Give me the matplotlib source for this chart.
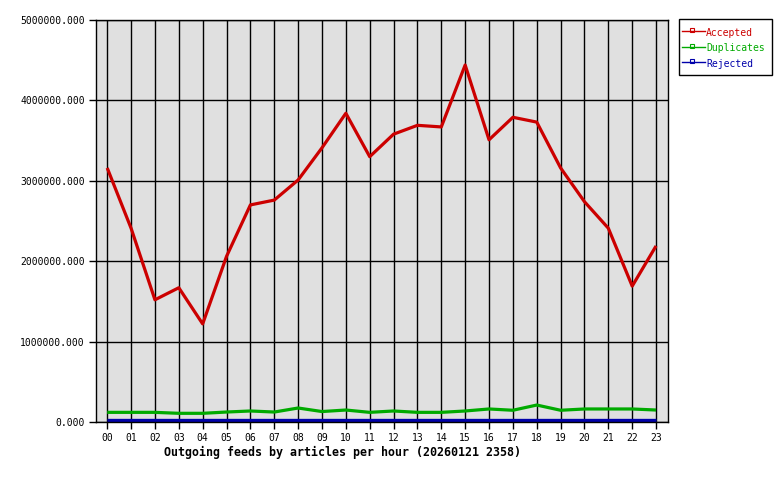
import matplotlib
matplotlib.use("Agg")
import matplotlib.pyplot as plt
from matplotlib.lines import Line2D
from matplotlib.patches import Rectangle

hours = ["00","01","02","03","04","05","06","07","08","09","10","11",
         "12","13","14","15","16","17","18","19","20","21","22","23"]
accepted = [3160000, 2410000, 1520000, 1670000, 1220000, 2060000, 2700000, 2760000,
            3010000, 3410000, 3840000, 3300000, 3580000, 3690000, 3670000, 4440000,
            3510000, 3790000, 3730000, 3160000, 2740000, 2410000, 1690000, 2190000]
duplicates = [120000, 120000, 120000, 108000, 108000, 124000, 137000, 124000,
              174000, 130000, 149000, 120000, 137000, 120000, 120000, 137000,
              162000, 146000, 211000, 146000, 162000, 162000, 162000, 149000]
rejected = [20000] * 24
series_names = ["Accepted", "Duplicates", "Rejected"]
yticks = [0, 1000000, 2000000, 3000000, 4000000, 5000000]

red = "#cc0000"
green = "#00aa00"
blue = "#0000aa"
colors = [red, green, blue]
mono = "DejaVu Sans Mono"

W, H = 780, 480
fig = plt.figure(figsize=(7.8, 4.8), dpi=100)
ax = fig.add_axes([96/W, 58/H, 572/W, 402/H])
ax.set_facecolor("#e0e0e0")
x = list(range(len(hours)))

ax.plot(x, rejected, color=blue, lw=2.4, solid_capstyle="butt", zorder=3)
ax.plot(x, duplicates, color=green, lw=2.3, solid_capstyle="butt", zorder=3)
ax.plot(x, accepted, color=red, lw=2.3, solid_capstyle="butt", zorder=3)

ax.set_xlim(-0.47, 23.5)
ax.set_ylim(0, 5000000)
ax.set_xticks(x)
ax.set_xticklabels(hours, fontfamily=mono, fontsize=7)
ax.set_yticks(yticks)
ax.set_yticklabels([f"{v:.3f}" for v in yticks], fontfamily=mono, fontsize=7)
ax.grid(True, color="black", lw=1)
ax.set_axisbelow(True)
ax.tick_params(direction="out", length=5, width=1, color="black", pad=3)
for s in ax.spines.values():
    s.set_color("black")
    s.set_linewidth(1)
    s.set_zorder(4)

fig.text(342/W, 1 - 452/H, "Outgoing feeds by articles per hour (20260121 2358)",
         ha="center", va="center", fontfamily=mono, fontsize=8.4, fontweight="bold")

# manual legend
fig.add_artist(Rectangle((678.5/W, 1 - 75/H), 93/W, 56.5/H, transform=fig.transFigure,
                         facecolor="white", edgecolor="black", lw=1))
for i, (name, c) in enumerate(zip(series_names, colors)):
    yl = 1 - (31 + 15.7 * i) / H
    fig.add_artist(Line2D([682/W, 705/W], [yl, yl], transform=fig.transFigure,
                          color=c, lw=1))
    fig.add_artist(Line2D([692/W], [yl + 1/H], transform=fig.transFigure, marker="s",
                          markersize=2.5, markerfacecolor="none", markeredgecolor=c,
                          markeredgewidth=0.8))
    fig.text(706/W, 1 - (32.5 + 15.7 * i) / H, name, color=c, fontfamily=mono,
             fontsize=7, ha="left", va="center")

fig.savefig("out.png", dpi=100)
